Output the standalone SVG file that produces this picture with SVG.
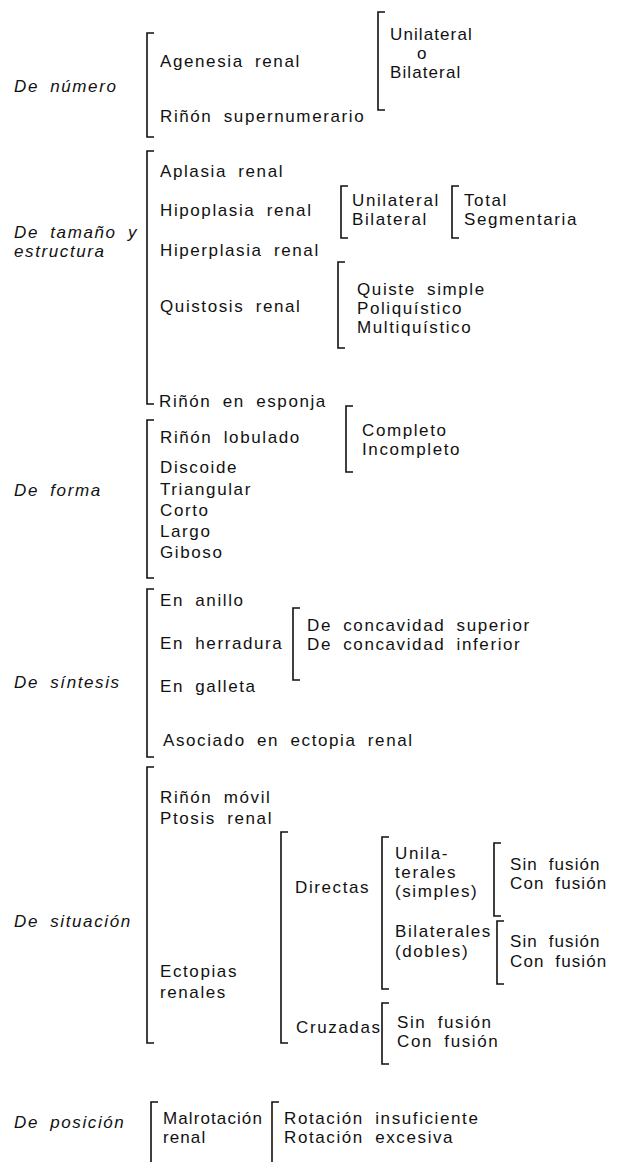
<svg xmlns="http://www.w3.org/2000/svg" width="618" height="1162" viewBox="0 0 618 1162">
<style>
text{font-family:"Liberation Sans",Arial,sans-serif;font-size:17px;fill:#111;letter-spacing:1.6px;word-spacing:5px}
.cat{font-style:italic}
.tight{letter-spacing:1.1px}
.br{fill:none;stroke:#111;stroke-width:1.6}
</style>
<rect width="618" height="1162" fill="#fff"/>
<g id="connectors">
<path class="br" d="M154,33H147V137H154"/>
<path class="br" d="M385,12H378V110H385"/>
<path class="br" d="M154,151H147V404H154"/>
<path class="br" d="M348,186H341V238H348"/>
<path class="br" d="M459,186H452V238H459"/>
<path class="br" d="M345,262H338V348H345"/>
<path class="br" d="M154,420H147V578H154"/>
<path class="br" d="M353,406H346V472H353"/>
<path class="br" d="M154,589H147V757H154"/>
<path class="br" d="M300,608H293V680H300"/>
<path class="br" d="M154,767H147V1043H154"/>
<path class="br" d="M288,832H281V1043H288"/>
<path class="br" d="M389,837H382V989H389"/>
<path class="br" d="M501,843H494V916H501"/>
<path class="br" d="M504,921H497V984H504"/>
<path class="br" d="M389,1003H382V1064H389"/>
<path class="br" d="M158,1102H151V1162"/>
<path class="br" d="M279,1102H272V1162"/>
</g>
<g id="n-numero">
<text class="cat" x="14" y="92">De número</text>
<text x="160" y="67">Agenesia renal</text>
<text class="tight" x="390" y="40">Unilateral</text>
<text x="417" y="59">o</text>
<text class="tight" x="390" y="78">Bilateral</text>
<text x="160" y="122">Riñón supernumerario</text>
</g>
<g id="n-tamano">
<text class="cat" x="14" y="238">De tamaño y</text>
<text class="cat" x="14" y="257">estructura</text>
<text x="160" y="177">Aplasia renal</text>
<text x="160" y="216">Hipoplasia renal</text>
<text x="352" y="206">Unilateral</text>
<text x="352" y="225">Bilateral</text>
<text x="464" y="206">Total</text>
<text x="464" y="225">Segmentaria</text>
<text x="160" y="256">Hiperplasia renal</text>
<text x="160" y="312">Quistosis renal</text>
<text x="357" y="295">Quiste simple</text>
<text x="357" y="314">Poliquístico</text>
<text x="357" y="333">Multiquístico</text>
<text x="159" y="407">Riñón en esponja</text>
</g>
<g id="n-forma">
<text class="cat" x="14" y="496">De forma</text>
<text x="160" y="443">Riñón lobulado</text>
<text x="362" y="436">Completo</text>
<text x="362" y="455">Incompleto</text>
<text x="160" y="473">Discoide</text>
<text x="160" y="495">Triangular</text>
<text x="160" y="516">Corto</text>
<text x="160" y="537">Largo</text>
<text x="160" y="558">Giboso</text>
</g>
<g id="n-sintesis">
<text class="cat" x="14" y="688">De síntesis</text>
<text x="160" y="606">En anillo</text>
<text x="160" y="649">En herradura</text>
<text x="307" y="631">De concavidad superior</text>
<text x="307" y="650">De concavidad inferior</text>
<text x="160" y="692">En galleta</text>
<text x="163" y="746">Asociado en ectopia renal</text>
</g>
<g id="n-situacion">
<text class="cat" x="14" y="927">De situación</text>
<text x="160" y="803">Riñón móvil</text>
<text x="160" y="824">Ptosis renal</text>
<text x="160" y="977">Ectopias</text>
<text x="160" y="998">renales</text>
<text x="295" y="893">Directas</text>
<text x="395" y="859">Unila-</text>
<text x="395" y="878">terales</text>
<text x="395" y="897">(simples)</text>
<text x="395" y="937">Bilaterales</text>
<text x="395" y="957">(dobles)</text>
<text class="tight" x="510" y="870">Sin fusión</text>
<text class="tight" x="510" y="889">Con fusión</text>
<text class="tight" x="510" y="947">Sin fusión</text>
<text class="tight" x="510" y="967">Con fusión</text>
<text x="296" y="1033">Cruzadas</text>
<text x="397" y="1028">Sin fusión</text>
<text x="397" y="1047">Con fusión</text>
</g>
<g id="n-posicion">
<text class="cat" x="14" y="1128">De posición</text>
<text class="tight" x="163" y="1124">Malrotación</text>
<text class="tight" x="163" y="1143">renal</text>
<text x="284" y="1124">Rotación insuficiente</text>
<text x="284" y="1143">Rotación excesiva</text>
</g>
</svg>
